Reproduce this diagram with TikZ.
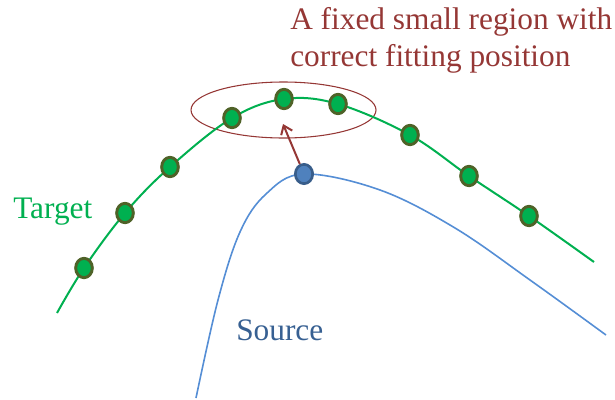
\documentclass[tikz,border=0pt]{standalone}
\usepackage{fontspec}
\setmainfont{Liberation Serif}
\usetikzlibrary{shapes.geometric,arrows.meta}
\definecolor{tgreen}{HTML}{00B050}
\definecolor{tolive}{HTML}{4F6228}
\definecolor{sblue}{HTML}{558ED5}
\definecolor{dblue}{HTML}{4F81BD}
\definecolor{dblueb}{HTML}{385D8A}
\definecolor{sblueT}{HTML}{376092}
\definecolor{dred}{HTML}{953735}
\tikzset{
  gdot/.style={ellipse,draw=tolive,fill=tgreen,line width=2.2pt,minimum width=12.5pt,minimum height=14.5pt,inner sep=0pt},
  bdot/.style={ellipse,draw=dblueb,fill=dblue,line width=2pt,minimum width=13pt,minimum height=14.5pt,inner sep=0pt},
  lbl/.style={font=\fontsize{23.5}{27.75}\selectfont,inner sep=0pt},
  arr/.style={draw=dred,line width=1.5pt,-{Straight Barb[length=6pt,width=9pt]}},
}
\begin{document}
\begin{tikzpicture}[x=0.75pt,y=-0.75pt]
\useasboundingbox (0,0) rectangle (615,400);
% region ellipse
\draw[dred,line width=0.8pt] (283.5,110) ellipse [x radius=92.5,y radius=28];
% target curve
\draw[tgreen,line width=1.5pt] plot[smooth,tension=0.6] coordinates {(57,313) (84,268) (125,213) (170,167) (232,118) (284,99) (338,104) (410,135) (469,176) (529,216) (594,262)};
% source curve
\draw[sblue,line width=1.2pt] plot[smooth,tension=0.6] coordinates {(196,398) (218,300) (240,232) (266,194) (304,174) (380,190) (455,228) (530,280) (606,335)};
% dots
\node[gdot] (g1) at (84,268) {};
\node[gdot] (g2) at (125,213) {};
\node[gdot] (g3) at (170,167) {};
\node[gdot] (g4) at (232,118) {};
\node[gdot] (g5) at (284,99) {};
\node[gdot] (g6) at (338,104) {};
\node[gdot] (g7) at (410,135) {};
\node[gdot] (g8) at (469,176) {};
\node[gdot] (g9) at (529,216) {};
\node[bdot] (s) at (304,174) {};
\coordinate (tip) at (283,124);
\draw[arr] (s) -- (tip);
% labels
\node[lbl,text=dred,align=left,anchor=base west] (title) at (290,66) {A fixed small region with\\correct fitting position};
\node[lbl,text=tgreen,anchor=base west] (target) at (13,218) {Target};
\node[lbl,text=sblueT,anchor=base west] (source) at (236,340) {Source};
\end{tikzpicture}
\end{document}
